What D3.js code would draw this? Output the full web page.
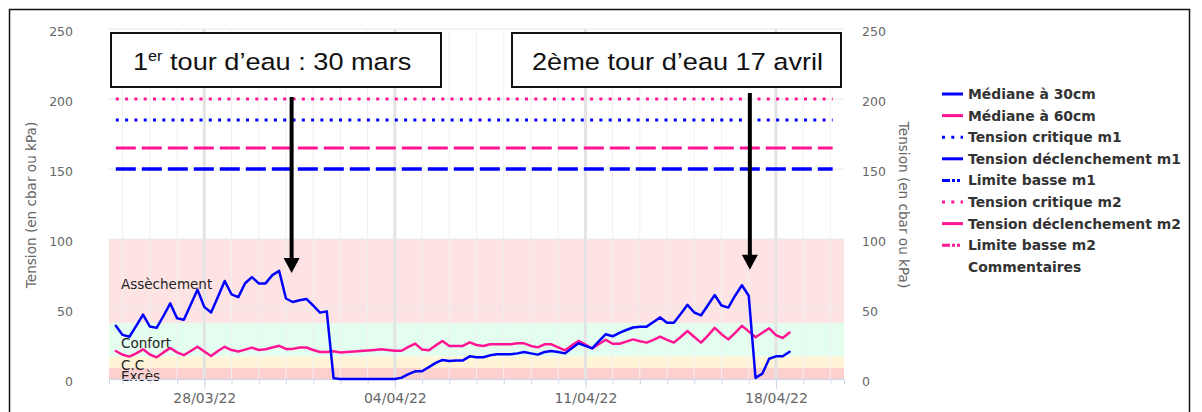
<!DOCTYPE html>
<html>
<head>
<meta charset="utf-8">
<script src="https://cdn.jsdelivr.net/npm/d3@7"></script>
<style>
  html, body { margin: 0; padding: 0; background: #fff; }
  svg { display: block; font-family: "DejaVu Sans", Verdana, sans-serif; }
</style>
</head>
<body>
<svg id="chart" width="1202" height="412"></svg>
<script>
// Tension des sondes, relevés toutes les 6 h du 24/03 18h au 18/04 12h
const debutReleves = "2022-03-24T18:00:00Z";
const finReleves = "2022-04-18T18:00:00Z";

const mediane30 = [
  38, 31.5, 30.2, 38, 46, 37.5, 36.5, 45, 54, 43.4,
  42.3, 53, 63.8, 51.5, 47.5, 58.5, 70, 60.5, 58.5, 68.4,
  72.8, 68.3, 68.3, 74.2, 77.2, 57.5, 55, 56.3, 57.2, 52.5,
  47.4, 48.3, 0.5, 0, 0, 0, 0, 0, 0, 0,
  0, 0, 1, 3.5, 5.5, 5.5, 8.5, 11.5, 13.6, 12.9,
  13.3, 13.3, 16.2, 15.5, 15.5, 16.9, 17.6, 17.6, 17.6, 18.3,
  19.3, 18.3, 17.4, 19.3, 20, 19.3, 18.3, 22, 25.5, 23.7,
  21.9, 27, 32, 30.5, 33, 35, 36.8, 37.4, 37.4, 40.7,
  44, 40.2, 40.2, 46.5, 53, 47.5, 45.5, 52.7, 60, 52.5,
  51, 59.5, 67, 59.5, 0.8, 3.8, 14.5, 16.2, 16.2, 19.5
];

const mediane60 = [
  20, 17.3, 16, 18.3, 21.2, 17.5, 15.5, 19, 22.2, 19,
  17, 20, 23, 19.7, 16.4, 20, 23, 20.7, 19.7, 21,
  22.4, 20.7, 21.2, 22.5, 23.7, 21.5, 21.5, 22.5, 22.5, 20.7,
  19.3, 19.3, 19.8, 19, 19.3, 19.7, 20, 20.3, 20.7, 21.2,
  20.7, 20.2, 20.2, 23, 25.3, 21, 20.5, 24, 27.2, 23.6,
  23.6, 23.6, 26.2, 24.3, 23.6, 24.8, 24.8, 24.8, 24.8, 25.5,
  25.5, 23.6, 22.6, 24.8, 24.8, 22.6, 20.5, 24, 27.2, 24.5,
  21.8, 25, 28, 25.2, 25.2, 26.7, 28.3, 27, 26, 28,
  30.2, 28, 26, 30, 34.3, 30, 26, 31, 36.5, 32,
  28.3, 33, 38, 34, 29.8, 33, 36.2, 31.4, 29.3, 33.2
];

// Seuils
const seuilNoms = ["Tension critique m1", "Tension déclenchement m1", "Tension critique m2", "Tension déclenchement m2"];
const seuilValeurs = [185, 150, 200, 165];
const seuilPeriode = ["2022-03-24T18:00:00Z", "2022-04-20T02:00:00Z"];

// Zones de confort
const zoneNoms = ["Assèchement", "Confort", "C.C", "Excès"];
const zoneBas = [40, 16, 8, 0];
const zoneHaut = [100, 40, 16, 8];

const yTicks = [0, 50, 100, 150, 200, 250];
const xDomaine = ["2022-03-24T12:00:00Z", "2022-04-20T12:00:00Z"];

const legendeNoms = ["Médiane à 30cm", "Médiane à 60cm", "Tension critique m1", "Tension déclenchement m1",
  "Limite basse m1", "Tension critique m2", "Tension déclenchement m2", "Limite basse m2", "Commentaires"];

// Tours d'eau
const annoDates = ["2022-03-31T05:00:00Z", "2022-04-17T01:00:00Z"];
const annoPointe = [75.7, 78];

// ---- styles ----
const BLEU = "#0000ff", ROSE = "#ff1493";
const zoneCouleurs = ["#fee3e4", "#e3fdef", "#fff4d6", "#fdd0d0"];
const styles = {
  "Médiane à 30cm": { c: BLEU, dash: null, w: 2.5 },
  "Médiane à 60cm": { c: ROSE, dash: null, w: 2.5 },
  "Tension critique m1": { c: BLEU, dash: "3,6.3", w: 3 },
  "Tension déclenchement m1": { c: BLEU, dash: "20,6", w: 3.5, leg: null },
  "Limite basse m1": { c: BLEU, dash: "8,2,3,2,3,3", w: 3 },
  "Tension critique m2": { c: ROSE, dash: "3,6.3", w: 3 },
  "Tension déclenchement m2": { c: ROSE, dash: "20,6", w: 3, leg: null },
  "Limite basse m2": { c: ROSE, dash: "8,2,3,2,3,3", w: 3 },
  "Commentaires": null
};

const svg = d3.select("#chart");
const left = 109, right = 844;

const x = d3.scaleUtc()
  .domain(xDomaine.map(d => new Date(d)))
  .range([left, right]);
const y = d3.scaleLinear().domain([0, 250]).range([379, 29]);

const temps = d3.utcHour.every(6).range(new Date(debutReleves), new Date(finReleves));

// cadre
svg.append("rect")
  .attr("x", 9.5).attr("y", 9.5).attr("width", 1180).attr("height", 440)
  .attr("fill", "none").attr("stroke", "#111").attr("stroke-width", 1.5);

// zones
svg.append("g").selectAll("rect")
  .data(zoneNoms)
  .join("rect")
  .attr("x", left)
  .attr("width", right - left)
  .attr("y", (d, i) => y(zoneHaut[i]))
  .attr("height", (d, i) => y(zoneBas[i]) - y(zoneHaut[i]))
  .attr("fill", (d, i) => zoneCouleurs[i]);

// grille
const grid = svg.append("g");
grid.selectAll("line.h")
  .data(yTicks.filter(v => v > 0))
  .join("line")
  .attr("x1", left).attr("x2", right)
  .attr("y1", d => y(d)).attr("y2", d => y(d))
  .attr("stroke", "#e8e8e8").attr("stroke-width", 1);

const jours = d3.utcDay.range(x.domain()[0], x.domain()[1]);
const lundis = d3.utcMonday.range(x.domain()[0], x.domain()[1]);
grid.selectAll("line.d")
  .data(jours.filter(d => d.getUTCDay() !== 1))
  .join("line")
  .attr("x1", d => x(d)).attr("x2", d => x(d))
  .attr("y1", y(250)).attr("y2", y(0))
  .attr("stroke", "#f0f0f0").attr("stroke-width", 1);
grid.selectAll("line.w")
  .data(lundis)
  .join("line")
  .attr("class", "w")
  .attr("x1", d => x(d)).attr("x2", d => x(d))
  .attr("y1", y(250)).attr("y2", y(0))
  .attr("stroke", "#e3e3e3").attr("stroke-width", 3);

// libellés des zones
svg.append("g").selectAll("text")
  .data(zoneNoms)
  .join("text")
  .attr("x", left + 12)
  .attr("y", (d, i) => y((zoneBas[i] + zoneHaut[i]) / 2) + 3)
  .attr("dominant-baseline", "central")
  .attr("font-size", "13.5px")
  .attr("fill", "#222")
  .text(d => d);

// axe X
const axeJours = d3.axisBottom(x).tickValues(jours).tickSize(5).tickFormat("");
const gj = svg.append("g").attr("transform", `translate(0,${y(0)})`).call(axeJours);
gj.select(".domain").attr("stroke", "#ccd6eb");
gj.selectAll(".tick line").attr("stroke", "#ccd6eb");

const axeSem = d3.axisBottom(x).tickValues(lundis).tickSize(10).tickPadding(6)
  .tickFormat(d3.utcFormat("%d/%m/%y"));
const gs = svg.append("g").attr("transform", `translate(0,${y(0)})`).call(axeSem);
gs.select(".domain").remove();
gs.selectAll(".tick line").attr("stroke", "#ccd6eb");
gs.selectAll(".tick text")
  .attr("y", 14)
  .attr("font-size", "14px")
  .attr("font-family", "DejaVu Sans")
  .attr("fill", "#666");

// axes Y (gauche et droite)
function styleY(g) {
  g.select(".domain").remove();
  g.selectAll(".tick line").remove();
  g.selectAll(".tick text")
    .attr("dy", "0.5em")
    .attr("font-size", "12.5px")
    .attr("font-family", "DejaVu Sans")
    .attr("fill", "#666");
}
svg.append("g").attr("transform", `translate(${left},0)`)
  .call(d3.axisLeft(y).tickValues(yTicks).tickSize(0).tickPadding(36))
  .call(styleY);
svg.append("g").attr("transform", `translate(${right},0)`)
  .call(d3.axisRight(y).tickValues(yTicks).tickSize(0).tickPadding(18))
  .call(styleY);

const titreY = "Tension (en cbar ou kPa)";
svg.append("text")
  .attr("transform", "translate(31,205) rotate(-90)")
  .attr("text-anchor", "middle").attr("dominant-baseline", "central")
  .attr("font-size", "13.6px").attr("fill", "#666")
  .text(titreY);
svg.append("text")
  .attr("transform", "translate(904,205) rotate(90)")
  .attr("text-anchor", "middle").attr("dominant-baseline", "central")
  .attr("font-size", "13.6px").attr("fill", "#666")
  .text(titreY);

// seuils
const periode = seuilPeriode.map(d => new Date(d));
svg.append("g").selectAll("line")
  .data(seuilNoms)
  .join("line")
  .attr("x1", x(periode[0])).attr("x2", x(periode[1]))
  .attr("y1", (d, i) => y(seuilValeurs[i])).attr("y2", (d, i) => y(seuilValeurs[i]))
  .attr("stroke", d => styles[d].c)
  .attr("stroke-width", d => styles[d].w)
  .attr("stroke-dasharray", d => styles[d].dash);

// médianes
const ligne = d3.line()
  .x((d, i) => x(temps[i]))
  .y(d => y(d));
[["Médiane à 60cm", mediane60], ["Médiane à 30cm", mediane30]].forEach(([nom, vals]) => {
  svg.append("path")
    .datum(vals)
    .attr("d", ligne)
    .attr("fill", "none")
    .attr("stroke", styles[nom].c)
    .attr("stroke-width", styles[nom].w)
    .attr("stroke-linejoin", "round")
    .attr("stroke-linecap", "round");
});

// légende
const leg = svg.append("g").attr("transform", "translate(942,94)");
const item = leg.selectAll("g")
  .data(legendeNoms)
  .join("g")
  .attr("transform", (d, i) => `translate(0,${i * 21.6})`);
item.filter(d => styles[d])
  .append("line")
  .attr("x1", 0).attr("x2", 21).attr("y1", 0).attr("y2", 0)
  .attr("stroke", d => styles[d].c)
  .attr("stroke-width", 3)
  .attr("stroke-dasharray", d => ("leg" in styles[d]) ? styles[d].leg : styles[d].dash);
item.append("text")
  .attr("x", 26).attr("y", 0)
  .attr("dominant-baseline", "central")
  .attr("font-size", "13.9px").attr("font-weight", "bold")
  .attr("fill", "#333")
  .text(d => d);

// tours d'eau : cadres et flèches
const cadres = [[111, 441], [512, 841]];
const annoG = svg.append("g").attr("font-family", "'Liberation Sans', Arial, sans-serif");
cadres.forEach((c, i) => {
  annoG.append("rect")
    .attr("x", c[0]).attr("y", 33).attr("width", c[1] - c[0]).attr("height", 54)
    .attr("fill", "#fff").attr("stroke", "#111").attr("stroke-width", 2);
});
const t1 = annoG.append("text")
  .attr("transform", "translate(133,70) scale(1.155,1)")
  .attr("font-size", "23.5px").attr("fill", "#111");
t1.append("tspan").text("1");
t1.append("tspan").attr("font-size", "14px").attr("dy", -9).text("er");
t1.append("tspan").attr("dy", 9).text(" tour d’eau : 30 mars");
annoG.append("text")
  .attr("transform", "translate(532,70) scale(1.155,1)")
  .attr("font-size", "23.5px").attr("fill", "#111")
  .text("2ème tour d’eau 17 avril");

const hautFleche = [97, 93];
annoDates.forEach((d, i) => {
  const ax = x(new Date(d));
  const tip = y(annoPointe[i]);
  annoG.append("line")
    .attr("x1", ax).attr("x2", ax)
    .attr("y1", hautFleche[i]).attr("y2", tip - 12)
    .attr("stroke", "#000").attr("stroke-width", 4);
  annoG.append("path")
    .attr("d", `M${ax - 8},${tip - 15}L${ax + 8},${tip - 15}L${ax},${tip}Z`)
    .attr("fill", "#000");
});
</script>
</body>
</html>
